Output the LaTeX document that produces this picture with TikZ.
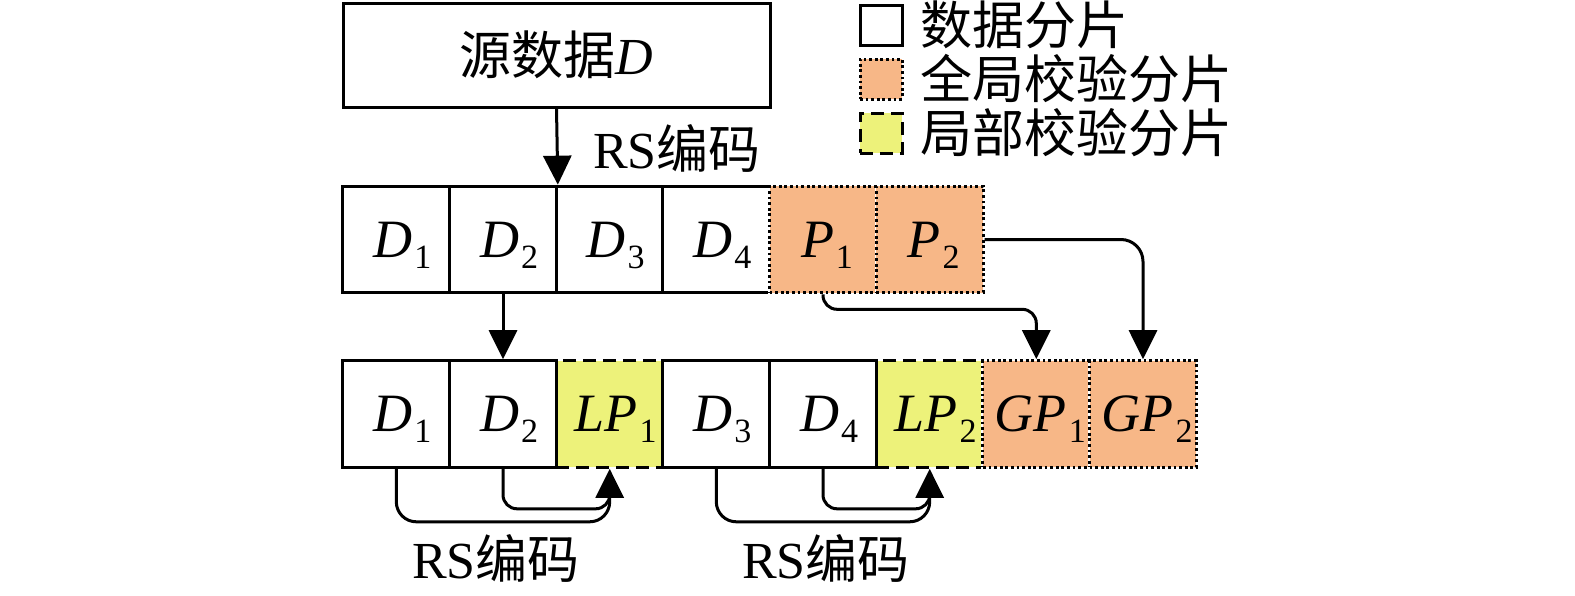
\documentclass[tikz,border=0pt]{standalone}
\usepackage{fontspec}
\setmainfont{Liberation Serif}
\newfontfamily\cjk{Noto Sans CJK SC}
\usetikzlibrary{arrows.meta,calc}
\definecolor{gorange}{HTML}{F7B787}
\definecolor{lyellow}{HTML}{EDF27A}
\newcommand\lab[2]{\textit{#1}\kern1pt\raisebox{-5.5pt}[0pt][0pt]{\fontsize{17pt}{17pt}\selectfont #2}}
\tikzset{
  txt/.style={font=\fontsize{26pt}{30pt}\selectfont, inner sep=0pt},
  cellbase/.style={font=\fontsize{27pt}{30pt}\selectfont, line width=1.5pt, minimum width=53.33pt, minimum height=53.3pt, inner sep=0pt, anchor=center},
  dcell/.style={cellbase, draw=black, fill=white},
  gcell/.style={cellbase, preaction={draw=white, solid}, draw=black, fill=gorange, dash pattern=on 1.4pt off 1.4pt},
  lcell/.style={cellbase, draw=black, fill=lyellow, dash pattern=on 6.5pt off 3.5pt},
  arr/.style={-{Triangle[length=14.5pt,width=14pt]}, line width=1.5pt},
  link/.style={line width=1.5pt},
}
\begin{document}
\begin{tikzpicture}[x=0.5pt,y=-0.5pt]
\useasboundingbox (0,0) rectangle (1575,595);
% top box
\node[draw, line width=1.5pt, minimum width=213.5pt, minimum height=52pt, txt] (src) at (556.5,55) {{\cjk 源数据}\textit{D}};
% row 1
\node[dcell] (a1) at (396.3,239.5) {\kern6pt\lab{D}{1}};
\node[dcell] (a2) at (503,239.5) {\kern6pt\lab{D}{2}};
\node[dcell] (a3) at (609.7,239.5) {\kern6pt\lab{D}{3}};
\node[dcell] (a4) at (716.3,239.5) {\kern6pt\lab{D}{4}};
\node[gcell] (p1) at (823,239.5) {\kern4pt\lab{P}{1}};
\node[gcell] (p2) at (929.7,239.5) {\kern4pt\lab{P}{2}};
% row 2
\node[lcell] (lp1) at (609.7,414) {\kern6pt\textit{L}\lab{P}{1}};
\node[lcell] (lp2) at (929.7,414) {\kern6pt\textit{L}\lab{P}{2}};
\node[dcell] (b1) at (396.3,414) {\kern6pt\lab{D}{1}};
\node[dcell] (b2) at (503,414) {\kern6pt\lab{D}{2}};
\node[dcell] (b3) at (716.3,414) {\kern6pt\lab{D}{3}};
\node[dcell] (b4) at (823,414) {\kern6pt\lab{D}{4}};
\node[gcell] (gp1) at (1036.3,414) {\kern4pt\textit{G}\lab{P}{1}};
\node[gcell] (gp2) at (1143,414) {\kern4pt\textit{G}\lab{P}{2}};
% connectors
\draw[arr] (src.south) -- (a2.north east);
\node[txt] (enc0) at (677,148) {RS{\cjk 编码}};
\draw[arr] (a2.south) -- (b2.north);
\draw[arr, rounded corners=7pt] (p1.south) -- ++(0,15) -| (gp1.north);
\draw[arr, rounded corners=11pt] (p2.east) -| (gp2.north);
\draw[link, rounded corners=10pt] (b1.south) |- ($(lp1.south)+(0,53)$) -- ($(lp1.south)+(0,27)$);
\draw[arr, rounded corners=7pt] (b2.south) |- ($(lp1.south)+(0,40)$) -- (lp1.south);
\draw[link, rounded corners=10pt] (b3.south) |- ($(lp2.south)+(0,53)$) -- ($(lp2.south)+(0,27)$);
\draw[arr, rounded corners=7pt] (b4.south) |- ($(lp2.south)+(0,40)$) -- (lp2.south);
\node[txt] (enc1) at (496,558) {RS{\cjk 编码}};
\node[txt] (enc2) at (826,558) {RS{\cjk 编码}};
% legend
\node[draw=black, line width=1.5pt, fill=white, minimum width=21pt, minimum height=20pt, inner sep=0pt] (k1) at (881,25) {};
\node[draw=black, line width=1.5pt, fill=gorange, dash pattern=on 1.4pt off 1.4pt, minimum width=21pt, minimum height=20pt, inner sep=0pt] (k2) at (881,79) {};
\node[draw=black, line width=1.5pt, fill=lyellow, dash pattern=on 6.5pt off 3.5pt, minimum width=21pt, minimum height=20pt, inner sep=0pt] (k3) at (881,133) {};
\node[txt, anchor=west] (t1) at (920,25) {\cjk 数据分片};
\node[txt, anchor=west] (t2) at (920,79) {\cjk 全局校验分片};
\node[txt, anchor=west] (t3) at (920,133) {\cjk 局部校验分片};
\end{tikzpicture}
\end{document}
